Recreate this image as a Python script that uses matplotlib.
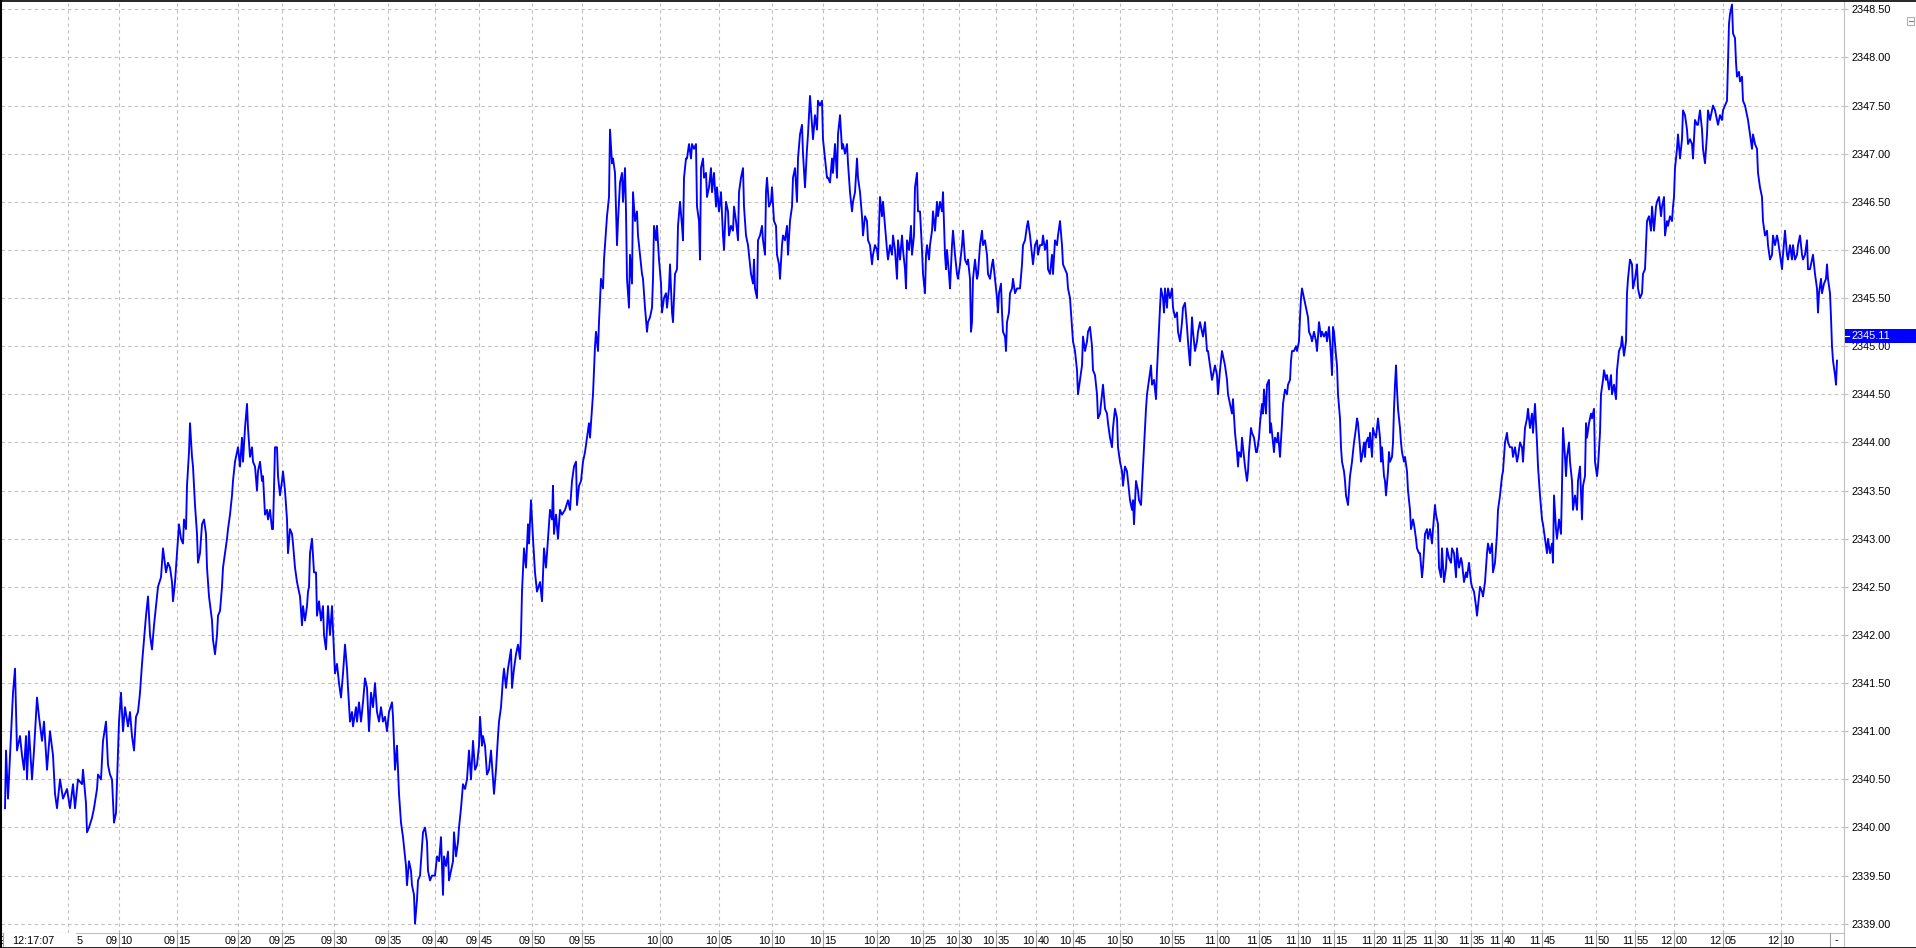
import numpy as np
import matplotlib.pyplot as plt
from matplotlib.patches import Rectangle
from matplotlib.lines import Line2D
from matplotlib.transforms import blended_transform_factory

plt.rcParams['font.family'] = ['Liberation Sans', 'DejaVu Sans']

W, H = 1916, 948

# price trace, (bar position, price), in six pieces
seg_a = [(5, 2340.2), (6, 2340.8), (8, 2340.3), (10, 2340.75), (13, 2341.4), (15, 2341.65), (17, 2340.8),
         (20, 2340.95), (22, 2340.75), (24, 2340.6), (26, 2340.95), (27, 2340.5), (29, 2341.0), (32, 2340.5),
         (34, 2340.8), (37, 2341.35), (39, 2341.15), (42, 2340.9), (44, 2341.1), (47, 2340.6), (50, 2341.0),
         (53, 2340.75), (55, 2340.35), (57, 2340.2), (60, 2340.5), (63, 2340.3), (67, 2340.4), (70, 2340.2),
         (73, 2340.45), (75, 2340.2), (78, 2340.5), (82, 2340.45), (83, 2340.6), (86, 2340.25), (87, 2339.95),
         (89, 2340.0), (92, 2340.1), (94, 2340.2), (97, 2340.4), (98, 2340.55), (101, 2340.5), (103, 2340.9),
         (106, 2341.1), (108, 2340.65), (110, 2340.55), (112, 2340.5), (114, 2340.05), (116, 2340.15),
         (118, 2340.8), (119, 2341.1), (121, 2341.4), (123, 2341.0), (125, 2341.25), (128, 2341.05),
         (130, 2341.2), (132, 2340.95), (134, 2340.8), (136, 2341.15), (138, 2341.2), (140, 2341.4),
         (142, 2341.7), (144, 2341.95), (146, 2342.2), (148, 2342.4), (150, 2342.0), (152, 2341.85),
         (154, 2342.1), (156, 2342.3), (158, 2342.5), (161, 2342.6), (163, 2342.9), (166, 2342.65),
         (168, 2342.75), (170, 2342.7), (172, 2342.55), (173, 2342.35), (175, 2342.55), (177, 2342.85),
         (179, 2343.15), (181, 2343.0), (183, 2342.95), (184, 2343.2), (186, 2343.1), (187, 2343.55),
         (189, 2343.9), (190, 2344.2), (192, 2343.85), (193, 2343.75), (195, 2343.35), (197, 2343.05),
         (198, 2342.75), (200, 2342.85), (202, 2343.15), (204, 2343.2), (206, 2343.05), (207, 2342.7),
         (209, 2342.4), (212, 2342.15), (213, 2341.95), (215, 2341.8), (217, 2342.0), (218, 2342.2),
         (220, 2342.25), (222, 2342.5), (223, 2342.7), (225, 2342.85), (227, 2343.0), (228, 2343.1),
         (230, 2343.25), (232, 2343.45), (233, 2343.6), (235, 2343.8), (237, 2343.9), (238, 2343.95),
         (240, 2343.75), (242, 2344.05), (243, 2343.8), (245, 2344.15), (247, 2344.4), (248, 2344.15),
         (250, 2343.85), (252, 2343.95), (253, 2343.8), (255, 2343.75), (257, 2343.5), (258, 2343.7),
         (260, 2343.8), (262, 2343.6), (263, 2343.65), (265, 2343.25), (267, 2343.3), (268, 2343.2),
         (270, 2343.3), (272, 2343.1), (273, 2343.1), (274, 2343.55), (275, 2343.95), (277, 2343.95),
         (278, 2343.65), (280, 2343.45), (282, 2343.6), (283, 2343.7), (285, 2343.5), (287, 2343.2),
         (288, 2342.85), (290, 2343.1), (292, 2343.05), (293, 2342.95), (295, 2342.7), (297, 2342.55),
         (298, 2342.5), (300, 2342.4), (302, 2342.1), (303, 2342.3), (305, 2342.15), (307, 2342.3),
         (308, 2342.45), (309, 2342.5)]

seg_b = [(310, 2342.85), (312, 2343.0), (314, 2342.65), (316, 2342.65), (317, 2342.2), (319, 2342.35),
         (321, 2342.15), (323, 2342.3), (324, 2342.0), (326, 2341.85), (328, 2342.3), (330, 2342.0),
         (332, 2342.3), (333, 2342.05), (335, 2341.6), (337, 2341.7), (339, 2341.5), (341, 2341.35),
         (343, 2341.6), (345, 2341.9), (347, 2341.65), (348, 2341.45), (350, 2341.1), (352, 2341.2),
         (353, 2341.05), (356, 2341.25), (357, 2341.1), (359, 2341.3), (361, 2341.1), (363, 2341.3),
         (365, 2341.55), (367, 2341.45), (369, 2341.0), (371, 2341.4), (373, 2341.25), (375, 2341.5),
         (377, 2341.2), (379, 2341.1), (381, 2341.25), (383, 2341.1), (385, 2341.15), (387, 2341.0),
         (389, 2341.2), (392, 2341.3), (393, 2341.15), (395, 2340.6), (397, 2340.85), (398, 2340.6),
         (399, 2340.35), (401, 2340.05), (403, 2339.9), (404, 2339.8), (406, 2339.6), (407, 2339.4),
         (409, 2339.65), (411, 2339.55), (412, 2339.4), (414, 2339.3), (415, 2339.0), (417, 2339.25),
         (418, 2339.45), (420, 2339.5), (422, 2339.8), (423, 2339.95), (425, 2340.0), (427, 2339.85),
         (428, 2339.55), (430, 2339.45), (432, 2339.5), (433, 2339.5), (435, 2339.5), (437, 2339.7),
         (439, 2339.65), (441, 2339.9), (443, 2339.3), (444, 2339.7), (446, 2339.6), (448, 2339.75),
         (449, 2339.45), (451, 2339.55), (453, 2339.65), (454, 2339.95), (456, 2339.7), (458, 2339.85),
         (459, 2340.0), (461, 2340.2), (463, 2340.45), (465, 2340.4), (467, 2340.5), (469, 2340.8),
         (471, 2340.5), (473, 2340.9), (475, 2340.6), (477, 2340.65), (479, 2340.85), (480, 2341.15),
         (482, 2340.85), (483, 2340.95), (485, 2340.85), (487, 2340.55), (489, 2340.6), (491, 2340.8),
         (493, 2340.5), (494, 2340.35), (496, 2340.6), (498, 2340.95), (499, 2341.1), (501, 2341.25),
         (503, 2341.55), (504, 2341.65), (506, 2341.45), (508, 2341.65), (511, 2341.85), (512, 2341.45),
         (514, 2341.65), (516, 2341.8), (518, 2341.9), (520, 2341.75), (521, 2342.0), (522, 2342.45),
         (524, 2342.9), (526, 2342.7), (528, 2343.15), (529, 2342.95), (531, 2343.4), (533, 2343.0),
         (535, 2342.65), (537, 2342.45), (540, 2342.55), (542, 2342.35), (544, 2342.9), (546, 2342.7),
         (548, 2343.0), (550, 2343.3), (552, 2343.2), (553, 2343.55), (554, 2343.05), (556, 2343.25),
         (558, 2343.0), (560, 2343.3), (562, 2343.25), (565, 2343.3), (568, 2343.4), (570, 2343.3),
         (572, 2343.6), (574, 2343.75), (576, 2343.8), (577, 2343.35), (579, 2343.55), (581, 2343.6),
         (583, 2343.8), (585, 2343.9), (587, 2344.05), (589, 2344.2), (590, 2344.05), (592, 2344.35),
         (593, 2344.5), (595, 2345.0), (596, 2345.15), (598, 2344.95), (599, 2345.25), (601, 2345.7),
         (603, 2345.6), (604, 2345.9), (606, 2346.2), (607, 2346.35), (609, 2346.55)]

seg_c = [(610, 2347.25), (612, 2346.9), (613, 2346.95), (615, 2346.8), (617, 2346.05), (618, 2346.3),
         (620, 2346.7), (622, 2346.8), (623, 2346.5), (625, 2346.85), (626, 2346.4), (627, 2345.7),
         (629, 2345.4), (630, 2345.95), (632, 2345.65), (633, 2346.6), (635, 2346.3), (637, 2346.4),
         (638, 2346.15), (640, 2345.95), (642, 2345.75), (643, 2345.7), (645, 2345.4), (647, 2345.15),
         (648, 2345.25), (650, 2345.3), (652, 2345.4), (653, 2345.7), (654, 2346.25), (656, 2346.1),
         (657, 2346.25), (659, 2345.9), (661, 2345.65), (662, 2345.35), (664, 2345.5), (666, 2345.55),
         (667, 2345.4), (669, 2345.6), (670, 2345.85), (672, 2345.35), (673, 2345.25), (675, 2345.75),
         (677, 2345.8), (678, 2346.25), (680, 2346.5), (682, 2346.25), (683, 2346.1), (684, 2346.75),
         (686, 2346.95), (687, 2346.95), (689, 2347.1), (691, 2346.95), (692, 2347.1), (694, 2347.05),
         (696, 2347.1), (697, 2346.45), (699, 2346.3), (700, 2345.9), (701, 2346.85), (703, 2346.95),
         (704, 2346.75), (706, 2346.8), (707, 2346.55), (709, 2346.65), (711, 2346.85), (712, 2346.6),
         (714, 2346.8), (716, 2346.45), (717, 2346.65), (719, 2346.4), (721, 2346.6), (723, 2346.15),
         (724, 2346.0), (726, 2346.5), (728, 2346.4), (729, 2346.15), (731, 2346.25), (733, 2346.2),
         (734, 2346.45), (736, 2346.3), (738, 2346.1), (739, 2346.6), (741, 2346.75), (743, 2346.85),
         (744, 2346.45), (746, 2346.15), (748, 2346.05), (749, 2345.95), (751, 2345.75), (753, 2345.65),
         (754, 2345.9), (755, 2345.6), (757, 2345.5), (758, 2346.1), (760, 2346.15), (762, 2346.25),
         (763, 2346.1), (765, 2345.95), (766, 2346.6), (767, 2346.75), (769, 2346.45), (771, 2346.5),
         (772, 2346.65), (774, 2346.3), (776, 2346.25), (777, 2345.95), (779, 2345.85), (780, 2345.7),
         (782, 2346.05), (783, 2346.15), (785, 2346.1), (787, 2346.25), (788, 2345.95), (790, 2346.3),
         (792, 2346.45), (793, 2346.75), (795, 2346.85), (797, 2346.5), (798, 2346.95), (800, 2347.2),
         (802, 2347.3), (803, 2347.0), (805, 2346.65), (807, 2347.05), (808, 2347.2), (810, 2347.6),
         (812, 2347.3), (813, 2347.15), (815, 2347.4), (817, 2347.25), (818, 2347.55), (820, 2347.5),
         (822, 2347.55), (823, 2347.15), (825, 2346.95), (827, 2346.75), (828, 2346.75), (830, 2346.7),
         (832, 2346.95), (833, 2346.8), (835, 2347.1), (837, 2346.75), (838, 2347.2), (840, 2347.4),
         (842, 2347.05), (843, 2347.1), (845, 2347.0), (847, 2347.1), (848, 2346.9), (850, 2346.6),
         (852, 2346.4), (853, 2346.5), (855, 2346.6), (857, 2346.95), (858, 2346.75), (860, 2346.6),
         (862, 2346.35), (863, 2346.15), (865, 2346.35), (867, 2346.3), (868, 2346.1), (870, 2346.05),
         (872, 2345.85), (873, 2345.95), (875, 2346.05), (877, 2346.0), (878, 2345.9), (880, 2346.55),
         (882, 2346.35), (883, 2346.5), (885, 2346.25), (887, 2346.0), (888, 2345.9), (890, 2346.05),
         (892, 2345.95), (893, 2346.15), (895, 2346.0), (897, 2345.7), (898, 2346.1), (900, 2345.9),
         (902, 2346.15), (903, 2346.0), (905, 2345.8), (906, 2345.6), (907, 2346.1), (909, 2346.0),
         (911, 2346.25), (912, 2345.95), (914, 2346.15), (915, 2346.65), (917, 2346.8), (918, 2346.4)]

seg_d = [(920, 2346.4), (922, 2346.0), (923, 2345.75), (925, 2345.55), (926, 2345.95), (927, 2346.05),
         (929, 2345.9), (930, 2346.05), (932, 2346.2), (933, 2346.4), (934, 2346.3), (935, 2346.2),
         (937, 2346.5), (938, 2346.35), (940, 2346.5), (942, 2346.4), (943, 2346.6), (945, 2345.95),
         (946, 2345.8), (947, 2346.0), (949, 2345.75), (950, 2345.6), (952, 2346.05), (953, 2346.2),
         (955, 2345.95), (957, 2345.75), (958, 2345.7), (960, 2345.85), (962, 2346.05), (963, 2346.2),
         (965, 2345.9), (967, 2345.85), (968, 2345.9), (970, 2345.7), (971, 2345.15), (972, 2345.25),
         (973, 2345.7), (975, 2345.9), (977, 2345.7), (978, 2345.75), (980, 2346.05), (982, 2346.2),
         (983, 2346.05), (985, 2346.1), (987, 2345.95), (988, 2345.75), (990, 2345.7), (992, 2345.85),
         (993, 2345.9), (995, 2345.7), (997, 2345.5), (998, 2345.35), (999, 2345.55), (1001, 2345.65),
         (1002, 2345.35), (1003, 2345.15), (1005, 2345.1), (1006, 2344.95), (1007, 2345.25),
         (1009, 2345.35), (1010, 2345.55), (1012, 2345.6), (1013, 2345.7), (1015, 2345.55),
         (1017, 2345.6), (1018, 2345.6), (1020, 2345.6), (1022, 2345.85), (1023, 2346.05),
         (1025, 2346.1), (1027, 2346.25), (1028, 2346.3), (1030, 2346.15), (1032, 2345.95),
         (1033, 2345.85), (1035, 2346.05), (1037, 2346.1), (1038, 2345.95), (1040, 2346.05),
         (1042, 2346.05), (1043, 2346.15), (1045, 2346.0), (1047, 2346.1), (1048, 2345.8),
         (1050, 2345.75), (1052, 2345.95), (1053, 2345.75), (1055, 2346.1), (1057, 2346.05),
         (1058, 2346.15), (1060, 2346.3), (1062, 2346.05), (1063, 2345.85), (1065, 2345.8),
         (1067, 2345.75), (1068, 2345.6), (1070, 2345.5), (1072, 2345.2), (1073, 2345.05),
         (1075, 2344.95), (1077, 2344.75), (1078, 2344.5), (1080, 2344.65), (1082, 2344.8),
         (1083, 2345.1), (1085, 2344.95), (1087, 2345.05), (1088, 2345.15), (1090, 2345.2),
         (1092, 2345.0), (1093, 2344.75), (1095, 2344.7), (1097, 2344.5), (1098, 2344.25),
         (1100, 2344.3), (1102, 2344.5), (1103, 2344.6), (1105, 2344.35), (1107, 2344.3),
         (1108, 2344.2), (1110, 2344.05), (1112, 2343.95), (1113, 2344.15), (1115, 2344.35),
         (1117, 2344.25), (1118, 2343.95), (1120, 2343.8), (1122, 2343.7), (1123, 2343.55),
         (1125, 2343.75), (1127, 2343.7), (1128, 2343.6), (1130, 2343.4), (1132, 2343.3),
         (1133, 2343.4), (1134, 2343.15), (1136, 2343.6), (1138, 2343.5), (1139, 2343.4),
         (1141, 2343.35), (1143, 2343.75), (1144, 2343.95), (1146, 2344.35), (1147, 2344.5),
         (1149, 2344.65), (1151, 2344.8), (1152, 2344.6), (1154, 2344.65), (1156, 2344.45),
         (1157, 2344.75), (1159, 2345.2), (1160, 2345.4), (1161, 2345.6), (1163, 2345.5),
         (1164, 2345.35), (1165, 2345.6), (1167, 2345.4), (1168, 2345.6), (1170, 2345.5),
         (1172, 2345.6), (1173, 2345.4), (1175, 2345.3), (1177, 2345.35), (1178, 2345.15),
         (1180, 2345.05), (1182, 2345.25), (1183, 2345.4), (1185, 2345.45), (1187, 2345.2),
         (1188, 2345.05), (1190, 2344.8), (1192, 2345.3), (1193, 2345.15), (1195, 2344.95),
         (1197, 2345.05), (1198, 2345.15), (1200, 2345.25), (1202, 2345.15), (1203, 2345.1),
         (1205, 2345.25), (1207, 2344.95), (1208, 2344.95), (1210, 2344.8), (1212, 2344.65),
         (1213, 2344.7), (1215, 2344.8), (1217, 2344.7), (1218, 2344.5), (1220, 2344.75),
         (1222, 2344.95), (1223, 2344.9), (1225, 2344.8), (1227, 2344.65), (1228, 2344.5)]

seg_e = [(1230, 2344.4), (1232, 2344.3), (1233, 2344.45), (1235, 2344.1), (1237, 2343.9), (1238, 2343.75),
         (1239, 2343.9), (1241, 2343.85), (1242, 2344.05), (1243, 2343.95), (1245, 2343.75),
         (1247, 2343.6), (1248, 2343.7), (1249, 2343.9), (1251, 2344.15), (1252, 2344.1),
         (1254, 2344.05), (1256, 2343.9), (1257, 2343.9), (1259, 2344.05), (1260, 2344.2),
         (1262, 2344.4), (1263, 2344.3), (1264, 2344.55), (1266, 2344.3), (1267, 2344.6),
         (1269, 2344.65), (1270, 2344.1), (1271, 2344.2), (1273, 2344.0), (1274, 2343.9),
         (1275, 2344.05), (1277, 2344.0), (1278, 2344.1), (1280, 2343.85), (1282, 2344.2),
         (1283, 2344.4), (1285, 2344.55), (1287, 2344.5), (1288, 2344.6), (1290, 2344.65),
         (1291, 2344.85), (1292, 2344.95), (1294, 2344.95), (1296, 2345.0), (1297, 2344.95),
         (1299, 2345.05), (1300, 2345.3), (1301, 2345.5), (1302, 2345.6), (1304, 2345.5),
         (1305, 2345.45), (1306, 2345.4), (1308, 2345.3), (1309, 2345.15), (1311, 2345.1),
         (1312, 2345.05), (1314, 2345.15), (1316, 2345.05), (1317, 2344.95), (1319, 2345.25),
         (1321, 2345.1), (1322, 2345.15), (1324, 2345.1), (1326, 2345.15), (1327, 2345.05),
         (1329, 2345.2), (1331, 2344.9), (1332, 2344.7), (1333, 2345.2), (1334, 2345.15),
         (1336, 2344.9), (1337, 2344.8), (1338, 2344.5), (1340, 2344.25), (1341, 2343.95),
         (1342, 2343.8), (1344, 2343.7), (1345, 2343.6), (1346, 2343.45), (1348, 2343.35),
         (1349, 2343.5), (1350, 2343.65), (1352, 2343.8), (1353, 2343.9), (1354, 2344.0),
         (1356, 2344.15), (1357, 2344.25), (1358, 2344.2), (1360, 2343.95), (1361, 2343.8),
         (1362, 2343.85), (1364, 2344.0), (1365, 2343.85), (1366, 2344.0), (1368, 2344.05),
         (1369, 2343.95), (1370, 2344.1), (1372, 2343.85), (1373, 2344.15), (1374, 2344.1),
         (1376, 2344.05), (1377, 2344.15), (1378, 2344.25), (1380, 2344.05), (1381, 2343.8),
         (1382, 2343.95), (1384, 2343.65), (1385, 2343.6), (1386, 2343.45), (1388, 2343.7),
         (1389, 2343.9), (1390, 2343.8), (1392, 2343.85), (1393, 2344.0), (1394, 2344.35),
         (1395, 2344.6), (1396, 2344.8), (1397, 2344.55), (1398, 2344.35), (1400, 2344.15),
         (1401, 2344.0), (1402, 2343.9), (1404, 2343.8), (1405, 2343.85), (1407, 2343.7),
         (1408, 2343.5), (1410, 2343.3), (1411, 2343.1), (1413, 2343.2), (1414, 2343.15),
         (1416, 2343.0), (1417, 2342.9), (1419, 2342.85), (1420, 2342.85), (1422, 2342.6),
         (1423, 2342.7), (1425, 2343.05), (1427, 2343.1), (1428, 2343.0), (1430, 2343.1),
         (1432, 2342.95), (1433, 2343.1), (1435, 2343.35), (1436, 2343.25), (1438, 2343.15),
         (1439, 2342.7), (1441, 2342.6), (1442, 2342.9), (1444, 2342.55), (1446, 2342.7),
         (1447, 2342.9), (1449, 2342.8), (1451, 2342.75), (1452, 2342.9), (1454, 2342.85),
         (1456, 2342.6), (1457, 2342.9), (1459, 2342.7), (1461, 2342.8), (1462, 2342.75),
         (1464, 2342.55), (1466, 2342.65), (1467, 2342.6), (1469, 2342.75), (1471, 2342.55),
         (1472, 2342.5), (1474, 2342.45), (1476, 2342.3), (1477, 2342.2), (1478, 2342.3),
         (1480, 2342.5), (1482, 2342.45), (1483, 2342.4), (1485, 2342.55), (1487, 2342.85),
         (1488, 2342.95), (1490, 2342.85), (1492, 2342.95), (1493, 2342.65), (1495, 2342.75),
         (1497, 2343.05), (1498, 2343.3), (1500, 2343.45), (1502, 2343.65), (1503, 2343.7),
         (1505, 2344.0), (1507, 2344.1), (1508, 2344.0), (1510, 2343.95), (1512, 2343.95),
         (1513, 2343.85), (1515, 2343.95), (1517, 2343.8), (1518, 2343.85), (1520, 2344.0),
         (1522, 2343.95), (1523, 2343.8), (1525, 2344.15), (1527, 2344.25), (1528, 2344.35)]

seg_f = [(1530, 2344.15), (1532, 2344.3), (1533, 2344.1), (1535, 2344.4), (1537, 2344.0), (1538, 2343.75),
         (1540, 2343.45), (1542, 2343.2), (1543, 2343.15), (1545, 2343.0), (1547, 2342.85),
         (1548, 2343.0), (1550, 2342.85), (1552, 2342.95), (1553, 2342.75), (1554, 2343.45),
         (1556, 2343.1), (1557, 2343.0), (1559, 2343.2), (1561, 2343.05), (1562, 2343.55),
         (1563, 2344.15), (1565, 2343.85), (1566, 2343.65), (1567, 2343.85), (1569, 2344.0),
         (1570, 2343.8), (1572, 2343.6), (1573, 2343.3), (1575, 2343.45), (1577, 2343.3),
         (1578, 2343.6), (1580, 2343.75), (1582, 2343.2), (1583, 2343.55), (1585, 2343.65),
         (1586, 2344.2), (1587, 2344.05), (1589, 2344.2), (1591, 2344.3), (1592, 2344.25),
         (1594, 2344.35), (1595, 2343.8), (1597, 2343.65), (1598, 2343.75), (1600, 2344.1),
         (1601, 2344.5), (1603, 2344.65), (1604, 2344.75), (1606, 2344.65), (1607, 2344.7),
         (1609, 2344.55), (1611, 2344.7), (1612, 2344.5), (1614, 2344.6), (1616, 2344.45),
         (1617, 2344.75), (1619, 2344.95), (1621, 2345.0), (1622, 2345.1), (1624, 2344.9),
         (1626, 2345.05), (1627, 2345.55), (1628, 2345.7), (1630, 2345.9), (1632, 2345.85),
         (1633, 2345.6), (1635, 2345.7), (1637, 2345.85), (1638, 2345.6), (1640, 2345.5),
         (1642, 2345.55), (1643, 2345.75), (1645, 2345.8), (1646, 2346.05), (1647, 2346.3),
         (1649, 2346.35), (1651, 2346.2), (1652, 2346.45), (1654, 2346.2), (1656, 2346.45),
         (1657, 2346.5), (1659, 2346.55), (1661, 2346.35), (1662, 2346.45), (1664, 2346.55),
         (1665, 2346.15), (1667, 2346.3), (1668, 2346.25), (1670, 2346.35), (1672, 2346.3),
         (1673, 2346.45), (1674, 2346.55), (1675, 2346.85), (1677, 2347.05), (1678, 2347.2),
         (1680, 2346.95), (1682, 2347.15), (1683, 2347.45), (1685, 2347.4), (1687, 2347.25),
         (1688, 2347.1), (1690, 2347.15), (1692, 2347.1), (1693, 2346.95), (1695, 2347.35),
         (1697, 2347.3), (1698, 2347.3), (1700, 2347.45), (1702, 2347.25), (1703, 2347.05),
         (1705, 2346.9), (1707, 2347.2), (1708, 2347.45), (1710, 2347.35), (1712, 2347.45),
         (1713, 2347.5), (1715, 2347.45), (1717, 2347.35), (1718, 2347.3), (1720, 2347.4),
         (1722, 2347.35), (1723, 2347.45), (1725, 2347.5), (1727, 2347.55), (1728, 2347.95),
         (1729, 2348.35), (1730, 2348.45), (1732, 2348.55), (1733, 2348.25), (1735, 2348.2),
         (1736, 2347.95), (1737, 2347.8), (1739, 2347.85), (1740, 2347.75), (1742, 2347.8),
         (1743, 2347.55), (1745, 2347.5), (1747, 2347.4), (1748, 2347.35), (1750, 2347.2),
         (1752, 2347.05), (1753, 2347.2), (1755, 2347.1), (1757, 2347.05), (1758, 2346.8),
         (1760, 2346.65), (1762, 2346.55), (1763, 2346.3), (1765, 2346.15), (1767, 2346.2),
         (1768, 2346.05), (1770, 2345.9), (1772, 2345.95), (1773, 2346.15), (1775, 2346.05),
         (1777, 2346.15), (1778, 2346.1), (1780, 2345.95), (1782, 2345.8), (1783, 2345.95),
         (1785, 2346.2), (1787, 2345.95), (1788, 2345.9), (1790, 2346.05), (1792, 2345.9),
         (1793, 2346.05), (1795, 2345.9), (1797, 2345.95), (1798, 2346.05), (1800, 2346.15),
         (1802, 2345.95), (1803, 2345.9), (1805, 2345.95), (1807, 2346.1), (1808, 2345.8),
         (1810, 2345.8), (1812, 2345.9), (1813, 2345.95), (1815, 2345.75), (1817, 2345.6),
         (1818, 2345.35), (1819, 2345.55), (1821, 2345.7), (1822, 2345.55), (1824, 2345.65),
         (1826, 2345.7), (1827, 2345.85), (1828, 2345.7), (1830, 2345.55), (1831, 2345.3),
         (1832, 2345.0), (1833, 2344.85), (1835, 2344.7), (1836, 2344.6), (1837, 2344.85)]

# time axis: bar position of each 5-minute mark and its label
time_pos = [68, 119, 177, 238, 282, 334, 388, 435, 479, 532, 582, 660, 719, 772, 823, 877, 923,
            959, 996, 1036, 1073, 1120, 1172, 1217, 1259, 1298, 1334, 1374, 1404, 1435, 1471, 1502,
            1542, 1596, 1635, 1674, 1723, 1781]
time_lbl = ['09:05', '09:10', '09:15', '09:20', '09:25', '09:30', '09:35', '09:40', '09:45', '09:50',
            '09:55', '10:00', '10:05', '10:10', '10:15', '10:20', '10:25', '10:30', '10:35', '10:40',
            '10:45', '10:50', '10:55', '11:00', '11:05', '11:10', '11:15', '11:20', '11:25', '11:30',
            '11:35', '11:40', '11:45', '11:50', '11:55', '12:00', '12:05', '12:10']
price_ticks = np.arange(2339.0, 2348.51, 0.5)
last_price = 2345.11
cursor_time = '12:17:07'

pts = seg_a + seg_b + seg_c + seg_d + seg_e + seg_f
bar = [p[0] for p in pts]
price = [p[1] for p in pts]


def fx(px):
    return px / W


def fy(py):
    return 1 - py / H


fig = plt.figure(figsize=(W / 100, H / 100), dpi=100)
fig.patch.set_facecolor('white')
ax = fig.add_axes([fx(1), fy(933), fx(1843), 932 / H])
ax.set_facecolor('white')

grid_c = '#c0c0c0'
ax.plot(bar, price, color='#0000ff', lw=1.35, zorder=3)
ax.set_xlim(1, 1844)
ax.set_ylim(2338.904, 2348.586)

ax.set_xticks(time_pos)
ax.set_xticklabels([])
ax.tick_params(axis='x', length=0)
ax.set_yticks(price_ticks)
ax.set_yticklabels(['%.2f' % v for v in price_ticks])
ax.yaxis.tick_right()
ax.tick_params(axis='y', length=3, width=0.8, color=grid_c, pad=2.5, labelsize=7.8, labelcolor='black')
ax.grid(True, color=grid_c, linestyle=(0, (3, 3)), linewidth=0.8, zorder=0)
for s in ['top', 'left']:
    ax.spines[s].set_visible(False)
ax.spines['right'].set_color(grid_c)
ax.spines['bottom'].set_color(grid_c)

# time labels below the plot, split at the mark
ty = fy(940.5)
tr = blended_transform_factory(ax.transData, fig.transFigure)
for pos, lbl in zip(time_pos[1:], time_lbl[1:]):
    hh, mm = lbl.split(':')
    fig.text(pos - 1.5, ty, hh, transform=tr, ha='right', va='center', fontsize=7.8)
    fig.text(pos + 1.5, ty, mm, transform=tr, ha='left', va='center', fontsize=7.8)
    fig.add_artist(Line2D([pos, pos], [fy(933), fy(946)], transform=tr, color='#a0a0a0', lw=0.8))

# cursor time box covering the first mark
fig.text(fx(-1), ty, time_lbl[0][1], ha='left', va='center', fontsize=7.8)
fig.add_artist(Rectangle((fx(3), fy(946)), fx(73), 13 / H, facecolor='white', edgecolor='none', zorder=5))
fig.add_artist(Line2D([fx(3), fx(3)], [fy(933), fy(946)], color='#a0a0a0', lw=0.8, zorder=6))
fig.text(fx(33), ty, cursor_time, ha='center', va='center', fontsize=7.8, zorder=6)
fig.text(fx(77), ty, time_lbl[0][-1], ha='left', va='center', fontsize=7.8, zorder=6)

# right end of the time strip
fig.add_artist(Line2D([fx(1830), fx(1830)], [fy(933), fy(946)], color='#a0a0a0', lw=0.8))
fig.text(fx(1835), ty, '-', ha='left', va='center', fontsize=7.8)
fig.add_artist(Line2D([fx(1844), fx(1844)], [fy(933), fy(948)], color=grid_c, lw=0.8))

# current price marker on the price scale
py_tr = blended_transform_factory(fig.transFigure, ax.transData)
box_h = 0.145
fig.add_artist(Rectangle((fx(1845), last_price - box_h / 2 - 0.005), fx(71), box_h,
                         transform=py_tr, facecolor='#0000ff', edgecolor='none', zorder=7))
fig.text(fx(1851), last_price, '%.2f' % last_price, transform=py_tr, ha='left', va='center',
         fontsize=7.8, color='white', zorder=8)
fig.add_artist(Line2D([fx(1845), fx(1849)], [last_price, last_price], transform=py_tr,
                      color='white', lw=0.8, zorder=8))

# small button in the top right corner
fig.add_artist(Rectangle((fx(1907), fy(25)), fx(7), 8 / H, facecolor='white', edgecolor='#b0b0b0', lw=0.8))
fig.add_artist(Line2D([fx(1908.5), fx(1912.5)], [fy(21), fy(21)], color='#808080', lw=0.8))

# window frame
fig.add_artist(Line2D([fx(0.5), fx(0.5)], [0, 1], color='black', lw=1.5))
fig.add_artist(Line2D([0, 1], [fy(0.5), fy(0.5)], color='black', lw=1.2))
fig.add_artist(Line2D([0, 1], [fy(947.5), fy(947.5)], color='black', lw=1.2))

fig.savefig('out.png', dpi=100, facecolor='white')
